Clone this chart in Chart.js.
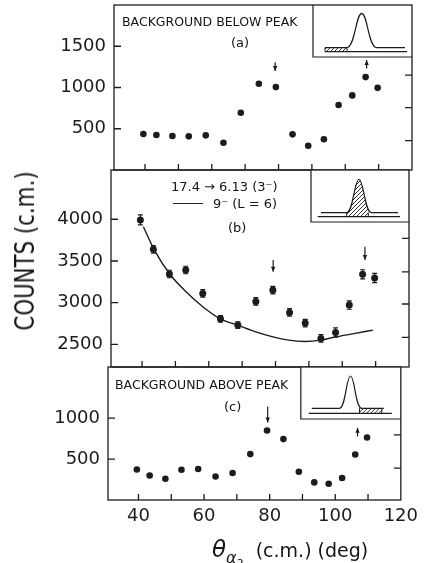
<!DOCTYPE html>
<html>
<head>
<meta charset="utf-8">
<script src="https://cdn.jsdelivr.net/npm/chart.js@4.4.1/dist/chart.umd.min.js"></script>
<style>
  body { margin: 0; background: #fff; }
  #wrap { position: relative; width: 424px; height: 563px; overflow: hidden; font-family: "DejaVu Sans", sans-serif; color: #151515; }
  #wrap canvas { position: absolute; left: 0; }
  .lbl { position: absolute; white-space: nowrap; line-height: 1; }
  #ytitle { left: 25px; top: 251px; font-size: 26px; transform: translate(-50%, -50%) rotate(-90deg) scaleX(0.82); }
  #xtitle { left: 212px; top: 538px; font-size: 19px; }
  #xtitle i { font-size: 23px; }
  #xtitle .s1 { font-size: 16px; font-style: italic; position: relative; top: 6px; }
  #xtitle .s2 { font-size: 11px; position: relative; top: 10px; }
</style>
</head>
<body>
<div id="wrap">
  <canvas id="panelA" width="424" height="215" style="top:-20px"></canvas>
  <canvas id="panelB" width="424" height="247" style="top:145px"></canvas>
  <canvas id="panelC" width="424" height="212" style="top:342px"></canvas>

  <div class="lbl" style="left:122px;top:16px;font-size:12.5px;">BACKGROUND BELOW PEAK</div>
  <div class="lbl" style="left:231px;top:36px;font-size:13px;">(a)</div>
  <div class="lbl" style="left:171px;top:180px;font-size:13px;">17.4 → 6.13 (3⁻)</div>
  <div style="position:absolute;left:173px;top:203px;width:30px;border-top:1.3px solid #222;"></div>
  <div class="lbl" style="left:213px;top:197px;font-size:13px;">9⁻ (L = 6)</div>
  <div class="lbl" style="left:228px;top:221px;font-size:13px;">(b)</div>
  <div class="lbl" style="left:115px;top:379px;font-size:12.5px;">BACKGROUND ABOVE PEAK</div>
  <div class="lbl" style="left:224px;top:400px;font-size:13px;">(c)</div>

  <div class="lbl" id="ytitle">COUNTS (c.m.)</div>
  <div class="lbl" id="xtitle"><i>θ</i><span class="s1">α</span><span class="s2">2</span>&nbsp; (c.m.) (deg)</div>
</div>
<script>
// 讀圖得到的數據
const angles = [39.5, 43.4, 48.2, 53.1, 58.2, 63.5, 68.7, 74.1, 79.2, 84.2, 88.9, 93.6, 98.0, 102.1, 106.1, 109.7];
const belowCounts = [436, 424, 412, 408, 420, 331, 694, 1045, 1005, 432, 294, 372, 787, 904, 1126, 996];
const peakCounts = [3992, 3640, 3344, 3392, 3112, 2807, 2732, 3016, 3152, 2884, 2756, 2572, 2644, 2972, 3340, 3296];
const peakErrors = [60, 45, 45, 45, 45, 40, 40, 45, 45, 45, 45, 45, 55, 50, 55, 55];
const aboveCounts = [373, 300, 260, 370, 378, 288, 329, 561, 849, 744, 345, 215, 199, 268, 556, 763];

// 9- (L=6) 理論曲線
const fitAngles = [40.4, 43.6, 48.3, 53.2, 58.2, 63.4, 68.6, 74.1, 79.2, 83.9, 88.9, 93.6, 98.0, 103.5, 109.2];
const fitCounts = [3911, 3640, 3344, 3131, 2951, 2807, 2732, 2651, 2591, 2552, 2536, 2552, 2591, 2630, 2672];

// 刻度
const xTickLabels = [40, 60, 80, 100, 120];
const xMinorTicks = [40, 50, 60, 70, 80, 90, 100, 110];
const yTicksBelow = [500, 1000, 1500];
const yTicksPeak = [2500, 3000, 3500, 4000];
const yTicksAbove = [500, 1000];
const rightTicksBelow = [355, 755, 1150, 1550];
const rightTicksPeak = [2585, 2985, 3370, 3770, 4170];
const rightTicksAbove = [390, 795, 1200];

// 箭頭: [角度, 尾端, 箭頭端]
const arrowsBelow = [[79.0, 1307, 1199], [106.4, 1231, 1332]];
const arrowsPeak = [[79.3, 3512, 3371], [106.8, 3671, 3512]];
const arrowsAbove = [[79.4, 1141, 946], [106.8, 776, 882]];

const INK = '#1c1c1c';
const X_MIN = 30.7, X_MAX = 120;

// 小插圖 (示意的能譜形狀), 座標相對於插圖框
const insetBelow = { w: 99, h: 52, lower: [12, 94, 46.7], spec: { from: 12, to: 92, base: 42.7, cx: 48.7, hw: 15, top: 8.3 }, hatch: [12, 34] };
const insetPeak = { w: 98, h: 52, lower: [6.7, 89, 46.7], spec: { from: 10, to: 87, base: 42.7, cx: 48, hw: 12.5, top: 9.3 }, hatch: [35.7, 57.3] };
const insetAbove = { w: 100, h: 52, lower: [8, 91, 46.3], spec: { from: 11, to: 83, base: 41.3, cx: 49.7, hw: 11, top: 9 }, hatch: [58.7, 81] };

Chart.defaults.font.family = '"DejaVu Sans", sans-serif';
Chart.defaults.color = INK;

function specPath(ctx, ox, oy, s) {
    const cx = ox + s.cx, base = oy + s.base, top = oy + s.top;
    ctx.moveTo(ox + s.from, base);
    ctx.lineTo(cx - s.hw, base);
    ctx.bezierCurveTo(cx - s.hw * 0.45, base, cx - s.hw * 0.38, top, cx, top);
    ctx.bezierCurveTo(cx + s.hw * 0.38, top, cx + s.hw * 0.45, base, cx + s.hw, base);
    ctx.lineTo(ox + s.to, base);
}

function drawInset(ctx, area, ins) {
    const ox = area.right - ins.w, oy = area.top;
    ctx.save();
    ctx.fillStyle = '#fff';
    ctx.fillRect(ox, oy, ins.w, ins.h);
    ctx.strokeStyle = INK;
    ctx.lineWidth = 1.2;
    ctx.beginPath();
    ctx.moveTo(ox, oy);
    ctx.lineTo(ox, oy + ins.h);
    ctx.lineTo(ox + ins.w, oy + ins.h);
    ctx.stroke();

    // 下方基線
    ctx.beginPath();
    ctx.moveTo(ox + ins.lower[0], oy + ins.lower[2]);
    ctx.lineTo(ox + ins.lower[1], oy + ins.lower[2]);
    ctx.stroke();

    // 斜線區
    ctx.save();
    ctx.beginPath();
    ctx.rect(ox + ins.hatch[0], oy, ins.hatch[1] - ins.hatch[0], ins.lower[2]);
    ctx.clip();
    ctx.beginPath();
    specPath(ctx, ox, oy, ins.spec);
    ctx.lineTo(ox + ins.spec.to, oy + ins.lower[2]);
    ctx.lineTo(ox + ins.spec.from, oy + ins.lower[2]);
    ctx.closePath();
    ctx.clip();
    ctx.lineWidth = 0.9;
    ctx.beginPath();
    for (let k = -60; k < 120; k += 4) {
        ctx.moveTo(ox + k, oy + ins.h);
        ctx.lineTo(ox + k + ins.h, oy);
    }
    ctx.stroke();
    ctx.restore();

    // 斜線區左右邊
    ctx.lineWidth = 1;
    ctx.beginPath();
    ins.hatch.forEach(hx => {
        ctx.moveTo(ox + hx, oy + ins.spec.base);
        ctx.lineTo(ox + hx, oy + ins.lower[2]);
    });
    ctx.stroke();

    // 能譜
    ctx.lineWidth = 1.2;
    ctx.beginPath();
    specPath(ctx, ox, oy, ins.spec);
    ctx.stroke();
    ctx.restore();
}

const panelDecor = {
    id: 'panelDecor',
    beforeDatasetsDraw(chart, args, opts) {
        if (!opts.errors) return;
        const { ctx, scales: { x, y } } = chart;
        const pts = chart.data.datasets[0].data;
        ctx.save();
        ctx.strokeStyle = INK;
        ctx.lineWidth = 1.2;
        ctx.beginPath();
        opts.errors.forEach((e, i) => {
            const px = x.getPixelForValue(pts[i].x);
            const y1 = y.getPixelForValue(pts[i].y + e);
            const y2 = y.getPixelForValue(pts[i].y - e);
            ctx.moveTo(px, y1); ctx.lineTo(px, y2);
            ctx.moveTo(px - 2.5, y1); ctx.lineTo(px + 2.5, y1);
            ctx.moveTo(px - 2.5, y2); ctx.lineTo(px + 2.5, y2);
        });
        ctx.stroke();
        ctx.restore();
    },
    afterDraw(chart, args, opts) {
        const { ctx, chartArea: a, scales: { x, y } } = chart;
        ctx.save();
        ctx.strokeStyle = INK;
        ctx.fillStyle = INK;
        ctx.lineWidth = 1.3;

        // 刻度 (朝內)
        ctx.beginPath();
        xMinorTicks.forEach(v => {
            const px = x.getPixelForValue(v);
            ctx.moveTo(px, a.bottom); ctx.lineTo(px, a.bottom - 6);
        });
        opts.yTicks.forEach(v => {
            const py = y.getPixelForValue(v);
            ctx.moveTo(a.left, py); ctx.lineTo(a.left + 7, py);
        });
        opts.rightTicks.forEach(v => {
            const py = y.getPixelForValue(v);
            ctx.moveTo(a.right, py); ctx.lineTo(a.right - 7, py);
        });
        ctx.stroke();

        // 箭頭
        ctx.lineWidth = 1.2;
        opts.arrows.forEach(([ang, tail, head]) => {
            const px = x.getPixelForValue(ang);
            const y0 = y.getPixelForValue(tail), y1 = y.getPixelForValue(head);
            const dir = y1 > y0 ? 1 : -1;
            ctx.beginPath();
            ctx.moveTo(px, y0); ctx.lineTo(px, y1);
            ctx.stroke();
            ctx.beginPath();
            ctx.moveTo(px - 2.2, y1 - dir * 5);
            ctx.lineTo(px + 2.2, y1 - dir * 5);
            ctx.lineTo(px, y1);
            ctx.closePath();
            ctx.fill();
        });

        drawInset(ctx, a, opts.inset);

        // 外框
        ctx.lineWidth = 1.3;
        ctx.strokeRect(a.left, a.top, a.right - a.left, a.bottom - a.top);
        ctx.restore();
    }
};

function makePanel(id, p) {
    const datasets = [{
        type: 'scatter',
        data: angles.map((ang, i) => ({ x: ang, y: p.counts[i] })),
        pointRadius: p.radius,
        pointBackgroundColor: INK,
        pointBorderWidth: 0
    }];
    if (p.curve) {
        datasets.push({
            type: 'line',
            data: fitAngles.map((ang, i) => ({ x: ang, y: fitCounts[i] })),
            borderColor: INK,
            borderWidth: 1.4,
            pointRadius: 0,
            fill: false,
            cubicInterpolationMode: 'monotone'
        });
    }
    const tickFont = { family: '"DejaVu Sans", sans-serif', size: 18 };
    return new Chart(document.getElementById(id), {
        type: 'scatter',
        data: { datasets: datasets },
        plugins: [panelDecor],
        options: {
            responsive: false,
            animation: false,
            events: [],
            layout: { padding: p.padding },
            plugins: {
                legend: { display: false },
                tooltip: { enabled: false },
                panelDecor: { yTicks: p.yTicks, rightTicks: p.rightTicks, arrows: p.arrows, inset: p.inset, errors: p.errors }
            },
            scales: {
                x: {
                    type: 'linear',
                    min: X_MIN, max: X_MAX,
                    display: p.showX,
                    grid: { display: false, drawTicks: false },
                    border: { display: false },
                    afterBuildTicks: s => { s.ticks = xTickLabels.map(v => ({ value: v })); },
                    afterFit: s => { s.height = p.showX ? 40 : 0; },
                    ticks: { padding: 6, color: INK, font: tickFont, maxRotation: 0, autoSkip: false, callback: v => String(v) }
                },
                y: {
                    type: 'linear',
                    min: p.yMin, max: p.yMax,
                    grid: { display: false, drawTicks: false },
                    border: { display: false },
                    afterBuildTicks: s => { s.ticks = p.yTicks.map(v => ({ value: v })); },
                    afterFit: s => { s.width = 60; },
                    ticks: { padding: 8, color: INK, font: tickFont, callback: v => String(v) }
                }
            }
        }
    });
}

// 畫布位置: 繪圖區 a: y 5-170, b: 170-367, c: 367-500
makePanel('panelA', {
    counts: belowCounts, radius: 3.3, yMin: 0, yMax: 2000,
    yTicks: yTicksBelow, rightTicks: rightTicksBelow, arrows: arrowsBelow, inset: insetBelow,
    showX: false, padding: { left: 54, right: 12, top: 25, bottom: 25 }
});

makePanel('panelB', {
    counts: peakCounts, radius: 3.5, yMin: 2230, yMax: 4590, curve: true, errors: peakErrors,
    yTicks: yTicksPeak, rightTicks: rightTicksPeak, arrows: arrowsPeak, inset: insetPeak,
    showX: false, padding: { left: 51, right: 15, top: 25, bottom: 25 }
});

makePanel('panelC', {
    counts: aboveCounts, radius: 3.3, yMin: 0, yMax: 1625,
    yTicks: yTicksAbove, rightTicks: rightTicksAbove, arrows: arrowsAbove, inset: insetAbove,
    showX: true, padding: { left: 48, right: 18, top: 25, bottom: 14 }
});
</script>
</body>
</html>
